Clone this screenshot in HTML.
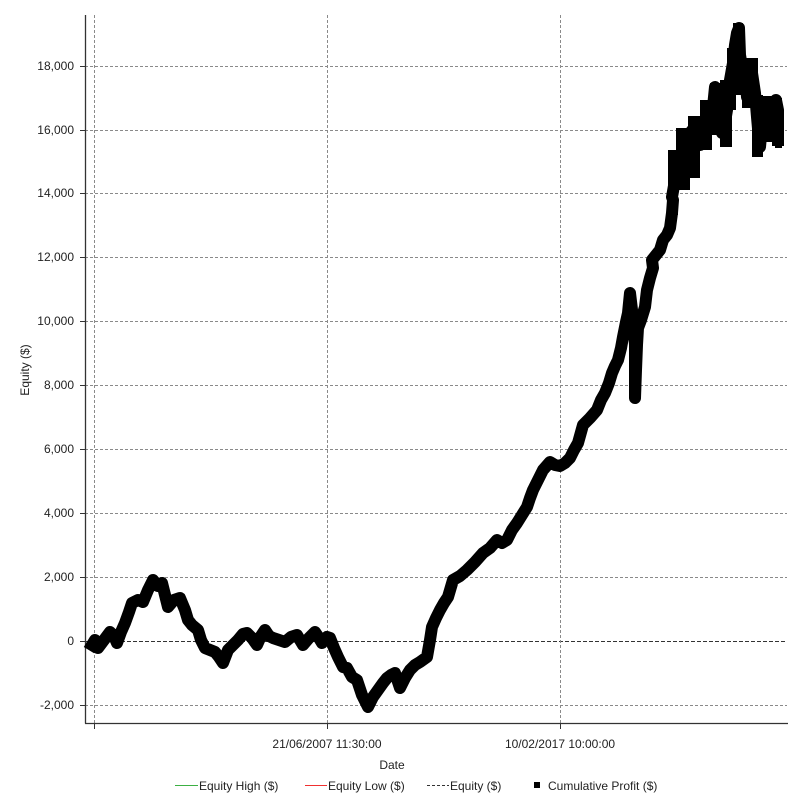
<!DOCTYPE html>
<html>
<head>
<meta charset="utf-8">
<style>
  html,body{margin:0;padding:0;background:#fff;}
  svg{display:block;}
  text{font-family:"Liberation Sans",sans-serif;fill:#222;}
</style>
</head>
<body>
<svg width="802" height="801" viewBox="0 0 802 801" xmlns="http://www.w3.org/2000/svg">
  <rect width="802" height="801" fill="#fff"/>
  <!-- horizontal gridlines -->
  <g stroke="#8a8a8a" stroke-width="1" stroke-dasharray="3,2">
    <line x1="85" y1="705.5" x2="787" y2="705.5"/>
    <line x1="85" y1="577.5" x2="787" y2="577.5"/>
    <line x1="85" y1="513.5" x2="787" y2="513.5"/>
    <line x1="85" y1="449.5" x2="787" y2="449.5"/>
    <line x1="85" y1="385.5" x2="787" y2="385.5"/>
    <line x1="85" y1="321.5" x2="787" y2="321.5"/>
    <line x1="85" y1="257.5" x2="787" y2="257.5"/>
    <line x1="85" y1="193.5" x2="787" y2="193.5"/>
    <line x1="85" y1="130.5" x2="787" y2="130.5"/>
    <line x1="85" y1="66.5" x2="787" y2="66.5"/>
  </g>
  <line x1="85" y1="641.5" x2="787" y2="641.5" stroke="#333" stroke-width="1" stroke-dasharray="4,2"/>
  <!-- vertical gridlines -->
  <g stroke="#8a8a8a" stroke-width="1" stroke-dasharray="3,2">
    <line x1="94.5" y1="15" x2="94.5" y2="723"/>
    <line x1="327.5" y1="15" x2="327.5" y2="723"/>
    <line x1="560.5" y1="15" x2="560.5" y2="723"/>
  </g>
  <!-- axes -->
  <line x1="85.5" y1="15" x2="85.5" y2="723.5" stroke="#333" stroke-width="1.3"/>
  <line x1="85" y1="723.5" x2="788" y2="723.5" stroke="#333" stroke-width="1.3"/>
  <!-- ticks -->
  <g stroke="#333" stroke-width="1">
    <line x1="80" y1="705.5" x2="85" y2="705.5"/>
    <line x1="80" y1="641.5" x2="85" y2="641.5"/>
    <line x1="80" y1="577.5" x2="85" y2="577.5"/>
    <line x1="80" y1="513.5" x2="85" y2="513.5"/>
    <line x1="80" y1="449.5" x2="85" y2="449.5"/>
    <line x1="80" y1="385.5" x2="85" y2="385.5"/>
    <line x1="80" y1="321.5" x2="85" y2="321.5"/>
    <line x1="80" y1="257.5" x2="85" y2="257.5"/>
    <line x1="80" y1="193.5" x2="85" y2="193.5"/>
    <line x1="80" y1="130.5" x2="85" y2="130.5"/>
    <line x1="80" y1="66.5" x2="85" y2="66.5"/>
    <line x1="94.5" y1="723" x2="94.5" y2="729"/>
    <line x1="327.5" y1="723" x2="327.5" y2="729"/>
    <line x1="560.5" y1="723" x2="560.5" y2="729"/>
  </g>
  <!-- y labels -->
  <g font-size="12" text-anchor="end">
    <text x="74" y="709">-2,000</text>
    <text x="74" y="645">0</text>
    <text x="74" y="581">2,000</text>
    <text x="74" y="517">4,000</text>
    <text x="74" y="453">6,000</text>
    <text x="74" y="389">8,000</text>
    <text x="74" y="325">10,000</text>
    <text x="74" y="261">12,000</text>
    <text x="74" y="197">14,000</text>
    <text x="74" y="134">16,000</text>
    <text x="74" y="70">18,000</text>
  </g>
  <text x="29" y="370" font-size="12" text-anchor="middle" transform="rotate(-90 29 370)">Equity ($)</text>
  <!-- x labels -->
  <g font-size="12" text-anchor="middle">
    <text x="327" y="748">21/06/2007 11:30:00</text>
    <text x="560" y="748">10/02/2017 10:00:00</text>
    <text x="392" y="769">Date</text>
  </g>
  <!-- series -->
  <polyline fill="none" stroke="#000" stroke-width="12" stroke-linejoin="round" stroke-linecap="square"
    points="92,645 95,640 98,648 104,640 110,632 114,636 117,643 121,632 125,623 129,612 132,603 138,600 143,602 148,590 153,580 158,586 162,583 165,595 168,607 174,600 180,598 185,610 188,620 192,625 198,630 201,640 205,648 210,650 215,652 219,657 223,663 228,650 233,645 238,640 243,634 247,633 252,638 257,645 261,636 265,630 269,636 273,638 279,640 285,642 291,637 297,635 303,645 309,638 315,632 319,638 322,643 327,637 330,638 334,648 338,657 343,667 347,668 352,677 357,680 362,695 368,707 373,697 378,690 383,683 387,678 391,675 395,673 400,688 405,678 410,670 415,665 420,662 427,657 430,640 432,627 436,618 440,610 444,603 448,597 453,580 460,576 467,570 475,562 483,553 490,548 497,540 502,543 507,540 512,530 517,523 522,515 527,507 530,498 533,490 538,480 543,470 550,462 555,465 560,466 565,463 570,458 574,450 578,443 583,425 590,418 597,410 601,400 605,393 609,383 612,373 615,366 618,360 621,348 623,337 626,322 628,313 630,293 632,310 634,330 635,345 635,372 635,398 636,370 637,345 638,328 641,320 645,307 647,290 650,278 653,268 652,260 656,255 660,250 663,240 667,235 670,228 672,213 673,200 672,197 675,180 677,167 680,158 683,150 687,140 690,133 694,128 697,127 700,145 703,135 707,127 710,118 713,107 715,87 718,110 722,133 725,122 727,110 730,80 733,63 735,45 737,33 739,28 740,55 743,73 746,85 747,97 750,80 752,73 755,93 757,117 759,140 760,147 762,125 763,107 766,120 770,133 772,115 773,107 776,100 778,110 778,140"/>
  <!-- thick blob in top-right region (rect union) -->
  <g fill="#000">
    <rect x="668" y="150" width="10" height="65"/>
    <rect x="676" y="128" width="14" height="62"/>
    <rect x="688" y="116" width="12" height="62"/>
    <rect x="700" y="100" width="12" height="50"/>
    <rect x="710" y="83" width="12" height="52"/>
    <rect x="720" y="80" width="12" height="67"/>
    <rect x="727" y="48" width="9" height="62"/>
    <rect x="733" y="23" width="10" height="72"/>
    <rect x="742" y="58" width="16" height="50"/>
    <rect x="752" y="95" width="11" height="62"/>
    <rect x="763" y="96" width="12" height="46"/>
    <rect x="775" y="98" width="7" height="50"/>
  </g>
  <!-- legend -->
  <g font-size="12">
    <line x1="175" y1="785.5" x2="198" y2="785.5" stroke="#3cb043" stroke-width="1"/>
    <text x="199" y="790">Equity High ($)</text>
    <line x1="305" y1="785.5" x2="327" y2="785.5" stroke="#f03030" stroke-width="1"/>
    <text x="328" y="790">Equity Low ($)</text>
    <line x1="427" y1="785.5" x2="449" y2="785.5" stroke="#333" stroke-width="1" stroke-dasharray="3,2"/>
    <text x="450" y="790">Equity ($)</text>
    <rect x="534" y="782" width="6" height="6" fill="#000"/>
    <text x="548" y="790">Cumulative Profit ($)</text>
  </g>
</svg>
</body>
</html>
